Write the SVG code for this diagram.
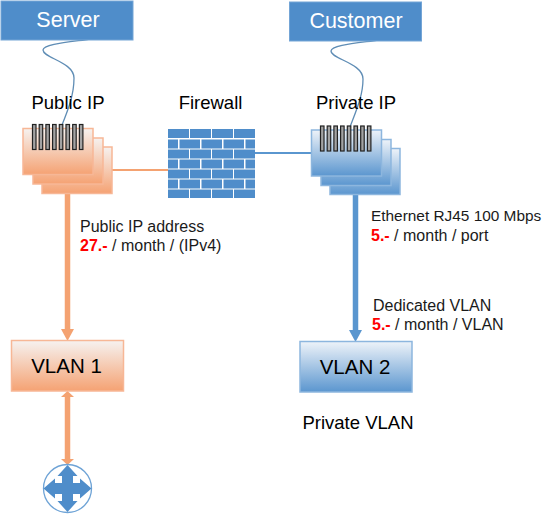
<svg xmlns="http://www.w3.org/2000/svg" width="556" height="515" viewBox="0 0 556 515">
<style>
text{font-family:"Liberation Sans",Arial,sans-serif;fill:#000}
.hdr{fill:#4f8dca;stroke:#74a5d6;stroke-width:1}
.hl{font-size:21.500px;fill:#fff;text-anchor:middle}
.lb{font-size:18.500px;text-anchor:middle}
.vl{font-size:20.500px;text-anchor:middle}
.sm{font-size:16px;fill:#1a1a1a}
.pr{font-weight:bold;fill:#f00}
.o{fill:url(#og);stroke:#f7b796;stroke-width:1.5}
.b{fill:url(#bg);stroke:#8db6de;stroke-width:1.5}
.t{fill:#a3a3a3;stroke:#222;stroke-width:1.2}
.w{fill:none;stroke:#5f8db5;stroke-width:1.3}
.ol{stroke:#f4a271;fill:none}
.bl{stroke:#5a96cf;fill:none}
.oh{fill:#f4a271}
.bh{fill:#5a96cf}
.br{fill:#4f8dca}
</style>
<defs>
<linearGradient id="og" x1="0" y1="0" x2="0" y2="1"><stop offset="0" stop-color="#f6f2f0"/><stop offset="1" stop-color="#f5a273"/></linearGradient>
<linearGradient id="bg" x1="0" y1="0" x2="0" y2="1"><stop offset="0" stop-color="#eef3f9"/><stop offset="1" stop-color="#5b96cf"/></linearGradient>
<g id="teeth">
<rect class="t" x="0" y="0" width="3.5" height="25"/><rect class="t" x="6.7" y="0" width="3.5" height="25"/><rect class="t" x="13.4" y="0" width="3.5" height="25"/><rect class="t" x="20.1" y="0" width="3.5" height="25"/><rect class="t" x="26.8" y="0" width="3.5" height="25"/><rect class="t" x="33.5" y="0" width="3.5" height="25"/><rect class="t" x="40.2" y="0" width="3.5" height="25"/><rect class="t" x="46.9" y="0" width="3.5" height="25"/>
</g>
</defs>

<g id="connectors">
<path class="w" d="M91 39C70 42 43 44 43 50C43 58 74 62 74 78C74 95 68 110 62 125"/>
<path class="w" d="M379 40C358 43 331 45 331 51C331 59 363 63 363 79C363 96 356 111 350 127"/>
<path class="ol" stroke-width="2" d="M112 170H168"/>
<path class="bl" stroke-width="2" d="M255 153H312"/>
<path class="ol" stroke-width="5.500" d="M67.500 193V332"/>
<polygon class="oh" points="61,329 74,329 67.500,341"/>
<path class="ol" stroke-width="5.500" d="M67.500 396V460"/>
<polygon class="oh" points="61,397 74,397 67.500,391"/>
<polygon class="oh" points="61,459 74,459 67.500,465"/>
<path class="bl" stroke-width="5.500" d="M355.500 185V332"/>
<polygon class="bh" points="349,186 362,186 355.500,175"/>
<polygon class="bh" points="349,330 362,330 355.500,342"/>
</g>

<g id="server"><rect class="hdr" x="1" y="1" width="132" height="39"/><text class="hl" x="68" y="27">Server</text></g>
<g id="customer"><rect class="hdr" x="289.500" y="2" width="132" height="39"/><text class="hl" x="356" y="28">Customer</text></g>

<g id="public-ip">
<text class="lb" x="68" y="109">Public IP</text>
<rect class="o" x="42" y="147" width="70" height="46.500"/>
<rect class="o" x="33" y="138" width="70" height="46"/>
<rect class="o" x="23" y="128.500" width="70" height="46"/>
<use href="#teeth" x="32.500" y="124.500"/>
</g>

<g id="firewall">
<text class="lb" x="210.500" y="109">Firewall</text>
<g>
<rect class="br" x="168" y="129" width="21" height="9"/><rect class="br" x="190" y="129" width="21" height="9"/><rect class="br" x="212" y="129" width="21" height="9"/><rect class="br" x="234" y="129" width="21" height="9"/>
<rect class="br" x="168" y="139.500" width="10" height="9"/><rect class="br" x="179.500" y="139.500" width="20.500" height="9"/><rect class="br" x="201.500" y="139.500" width="20.500" height="9"/><rect class="br" x="223.500" y="139.500" width="20.500" height="9"/><rect class="br" x="245.500" y="139.500" width="9.500" height="9"/>
<rect class="br" x="168" y="149.500" width="21" height="9"/><rect class="br" x="190" y="149.500" width="21" height="9"/><rect class="br" x="212" y="149.500" width="21" height="9"/><rect class="br" x="234" y="149.500" width="21" height="9"/>
<rect class="br" x="168" y="159.500" width="10" height="9"/><rect class="br" x="179.500" y="159.500" width="20.500" height="9"/><rect class="br" x="201.500" y="159.500" width="20.500" height="9"/><rect class="br" x="223.500" y="159.500" width="20.500" height="9"/><rect class="br" x="245.500" y="159.500" width="9.500" height="9"/>
<rect class="br" x="168" y="169.500" width="21" height="9"/><rect class="br" x="190" y="169.500" width="21" height="9"/><rect class="br" x="212" y="169.500" width="21" height="9"/><rect class="br" x="234" y="169.500" width="21" height="9"/>
<rect class="br" x="168" y="179.500" width="10" height="9"/><rect class="br" x="179.500" y="179.500" width="20.500" height="9"/><rect class="br" x="201.500" y="179.500" width="20.500" height="9"/><rect class="br" x="223.500" y="179.500" width="20.500" height="9"/><rect class="br" x="245.500" y="179.500" width="9.500" height="9"/>
<rect class="br" x="168" y="189.500" width="21" height="8.500"/><rect class="br" x="190" y="189.500" width="21" height="8.500"/><rect class="br" x="212" y="189.500" width="21" height="8.500"/><rect class="br" x="234" y="189.500" width="21" height="8.500"/>
</g>
</g>

<g id="private-ip">
<text class="lb" x="356" y="109">Private IP</text>
<rect class="b" x="330" y="148.500" width="70" height="46"/>
<rect class="b" x="321" y="139.500" width="70" height="46"/>
<rect class="b" x="311.500" y="130" width="70" height="46"/>
<use href="#teeth" x="320.500" y="126"/>
</g>

<g id="vlan1"><rect class="o" x="11.500" y="340.500" width="112" height="50.500"/><text class="vl" x="66.500" y="373">VLAN 1</text></g>
<g id="vlan2"><rect class="b" x="300" y="341.500" width="112" height="50.500"/><text class="vl" x="355" y="373.500">VLAN 2</text></g>

<g id="router">
<circle cx="67.500" cy="488.500" r="24" fill="#fff" stroke="#6ea3d6" stroke-width="1.300"/>
<path class="br" d="M67.500 465L77.500 476H73V483H80V478.500L91.500 488.500L80 498.500V494H73V501H77.500L67.500 512L57.500 501H62V494H55V498.500L43.500 488.500L55 478.500V483H62V476H57.500Z"/>
</g>

<g id="labels">
<text class="sm" x="80" y="232">Public IP address</text>
<text class="sm" x="80" y="251"><tspan class="pr">27.-</tspan> / month / (IPv4)</text>
<text class="sm" x="371" y="221" style="font-size:15.400px">Ethernet RJ45 100 Mbps</text>
<text class="sm" x="371" y="241"><tspan class="pr">5.-</tspan> / month / port</text>
<text class="sm" x="373" y="311">Dedicated VLAN</text>
<text class="sm" x="372" y="330"><tspan class="pr">5.-</tspan> / month / VLAN</text>
<text class="lb" x="358" y="429">Private VLAN</text>
</g>
</svg>
